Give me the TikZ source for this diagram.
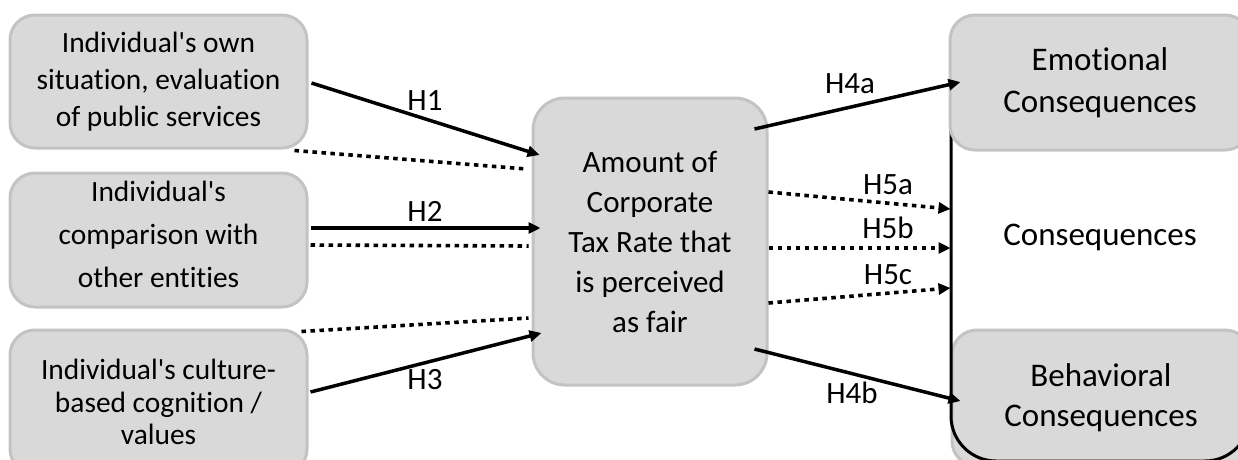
\documentclass[tikz,border=0pt]{standalone}
\usepackage{fontspec}
\setmainfont{Carlito}[Ligatures={NoCommon,NoRare,NoContextual}]
\usetikzlibrary{arrows.meta,calc}
\definecolor{boxfill}{HTML}{D9D9D9}
\definecolor{boxline}{HTML}{C3C3C3}
\newcommand{\ap}{\textquotesingle}
\begin{document}
\begin{tikzpicture}[x=1pt,y=-1pt,
  box/.style={draw=boxline, fill=boxfill, line width=3pt, rounded corners=25pt,
    align=center, inner sep=0pt, shape=rectangle},
  lbl/.style={font=\fontsize{31}{36}\selectfont, inner sep=0pt},
  solidarr/.style={line width=3.5pt, -{Triangle[length=12pt,width=11pt]}},
  dotline/.style={line width=3.6pt, dash pattern=on 4.5pt off 4.5pt},
  dotarr/.style={dotline, -{Triangle[length=12pt,width=11pt]}},
]
\path[use as bounding box] (0,0) rectangle (1238,459);
\clip (0,0) rectangle (1238,459);

% left boxes
\node[box, minimum width=297pt, minimum height=133pt,
  font=\fontsize{29.4}{37}\selectfont] (b1) at (158.5,81.5)
  {Individual\ap s own\\situation, evaluation\\of public services};
\node[box, minimum width=297pt, minimum height=134pt,
  font=\fontsize{29.4}{43}\selectfont] (b2) at (158.5,240)
  {Individual\ap s\\comparison with\\other entities\rule[-12pt]{0pt}{0pt}};
\node[box, minimum width=297pt, minimum height=144pt,
  font=\fontsize{29.4}{32.5}\selectfont] (b3) at (158.5,402)
  {Individual\ap s culture-\\based cognition /\\values};

% centre box
\node[box, rounded corners=32pt, minimum width=234pt, minimum height=287pt,
  font=\fontsize{31}{40}\selectfont] (c) at (650,241.5)
  {Amount of\\Corporate\\Tax Rate that\\is perceived\\as fair};

% right side
\node[box, minimum width=298pt, minimum height=136pt,
  font=\fontsize{33}{40}\selectfont] (bh) at (1101,398)
  {Behavioral\\Consequences};
\node[draw=black, line width=3pt, rounded corners=45pt, shape=rectangle,
  minimum width=299pt, minimum height=441pt, inner sep=0pt] (cons) at (1100.5,240.5) {};
\node[box, minimum width=300pt, minimum height=135pt,
  font=\fontsize{33}{42}\selectfont] (e) at (1100,82.5)
  {Emotional\\Consequences};
\node[font=\fontsize{33}{40}\selectfont, inner sep=0pt] (ct) at (1100,237) {Consequences};

% arrows left -> centre
\draw[solidarr] ($(b1.east)+(3,1.5)$) -- ($(c.west)+(8,-86.5)$);
\draw[dotline] ($(b1.south east)+(-14,1)$) -- ($(c.west)+(-5,-72.5)$);
\draw[solidarr] ($(b2.east)+(2,-12)$) -- ($(c.west)+(9,-13.5)$);
\draw[dotline] ($(b2.east)+(2,5)$) -- ($(c.west)+(-3,4.5)$);
\draw[dotline] ($(b3.north east)+(-7,3)$) -- ($(c.west)+(-3,76.5)$);
\draw[solidarr] ($(b3.east)+(2,-10)$) -- ($(c.west)+(10,91.5)$);

% arrows centre -> right
\draw[solidarr] ($(c.east)+(-14,-112.5)$) -- ($(e.west)+(12,-0.5)$);
\draw[solidarr] ($(c.east)+(-14,107.5)$) -- ($(bh.west)+(10,3)$);
\draw[dotarr] ($(c.east)+(0,-49.5)$) -- ($(cons.west)+(1,-31.5)$);
\draw[dotarr] ($(c.east)+(0,6.5)$) -- ($(cons.west)+(1,7.5)$);
\draw[dotarr] ($(c.east)+(0,61.5)$) -- ($(cons.west)+(1,47.5)$);

% labels
\node[lbl] (l1) at (425,101) {H1};
\node[lbl] (l2) at (425,211) {H2};
\node[lbl] (l3) at (425,380) {H3};
\node[lbl] (l4a) at (850,84) {H4a};
\node[lbl] (l4b) at (852,393) {H4b};
\node[lbl] (l5a) at (888,185) {H5a};
\node[lbl] (l5b) at (888,228) {H5b};
\node[lbl] (l5c) at (888,275) {H5c};
\end{tikzpicture}
\end{document}
